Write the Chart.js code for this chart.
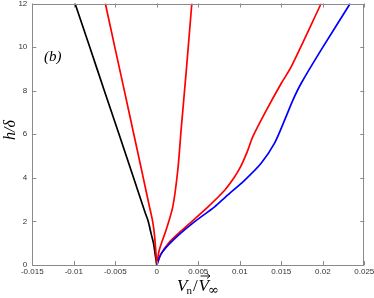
<!DOCTYPE html>
<html>
<head>
<meta charset="utf-8">
<script src="https://cdn.jsdelivr.net/npm/chart.js@4"></script>
<style>
  html, body { margin: 0; padding: 0; background: #fff; }
  #wrap { position: relative; width: 374px; height: 298px; }
</style>
</head>
<body>
<div id="wrap"><canvas id="chart"></canvas></div>
<script>
// axis ranges and tick labels
const xTicks = ["-0.015", "-0.01", "-0.005", "0", "0.005", "0.01", "0.015", "0.02", "0.025"];
const yTicks = ["0", "2", "4", "6", "8", "10", "12"];

// black curve (h/delta, Vn/Vinf)
const blackH = [0, 0.5, 1.0, 1.45, 1.8, 2.07, 2.4, 4, 6, 8, 10, 12];
const blackV = [0, -0.0002, -0.0004, -0.00069, -0.0009, -0.00108, -0.0014, -0.0028, -0.00455, -0.00632, -0.00808, -0.00985];

// red curve, left branch
const redLeftH = [0, 0.55, 1.45, 2.0, 2.37, 2.7, 4, 6, 8, 10, 12];
const redLeftV = [0, -0.0001, -0.0003, -0.0005, -0.0007, -0.0009, -0.00163, -0.00277, -0.00391, -0.00506, -0.0062];

// red curve, steep right branch
const redSteepH = [0, 0.69, 1.61, 2.68, 4.36, 6.2, 9, 12];
const redSteepV = [0, 0.0003, 0.00112, 0.00193, 0.00253, 0.00293, 0.00357, 0.00422];

// red curve, wide branch
const redWideH = [0, 0.5, 1.0, 1.55, 2.68, 3.44, 4.0, 4.51, 5.2, 5.89, 6.96, 8.34, 9.1, 12];
const redWideV = [0, 0.0005, 0.0014, 0.0029, 0.0062, 0.0082, 0.0093, 0.0101, 0.0109, 0.01157, 0.013, 0.015, 0.0162, 0.0198];

// blue curve
const blueH = [0, 0.5, 1.15, 1.91, 2.68, 3.13, 3.9, 4.67, 5.58, 6.65, 7.57, 8.34, 9.87, 12];
const blueV = [0, 0.0005, 0.002, 0.0043, 0.007, 0.0083, 0.0106, 0.01257, 0.01417, 0.0154, 0.0164, 0.0174, 0.0198, 0.0233];

const toPoints = (hs, vs) => hs.map((h, i) => ({ x: vs[i], y: h }));

const curve = (hs, vs, color) => ({
  data: toPoints(hs, vs),
  borderColor: color,
  borderWidth: 1.7,
  showLine: true,
  pointRadius: 0,
  tension: 0.3,
  fill: false,
});

// box, inward ticks, titles and panel label
const axisDecor = {
  id: "axisDecor",
  afterDraw(chart) {
    const { ctx, chartArea: a, scales } = chart;
    const x = scales.x, y = scales.y;
    ctx.save();
    ctx.strokeStyle = "#8a8a8a";
    ctx.lineWidth = 1;
    ctx.strokeRect(Math.round(a.left) + 0.5, Math.round(a.top) + 0.5,
      Math.round(a.width) - 1, Math.round(a.height) - 1);
    ctx.beginPath();
    xTicks.forEach((t) => {
      const px = Math.round(x.getPixelForValue(parseFloat(t))) + 0.5;
      ctx.moveTo(px, a.bottom); ctx.lineTo(px, a.bottom - 4);
      ctx.moveTo(px, a.top); ctx.lineTo(px, a.top + 4);
    });
    yTicks.forEach((t) => {
      const py = Math.round(y.getPixelForValue(parseFloat(t))) + 0.5;
      ctx.moveTo(a.left, py); ctx.lineTo(a.left + 4, py);
      ctx.moveTo(a.right, py); ctx.lineTo(a.right - 4, py);
    });
    ctx.stroke();

    ctx.fillStyle = "#000";
    ctx.textBaseline = "alphabetic";
    // panel label
    ctx.font = "italic 15px 'Liberation Serif'";
    ctx.textAlign = "left";
    ctx.fillText("(b)", 44, 61);

    // y title h/δ
    ctx.save();
    ctx.translate(15, 130);
    ctx.rotate(-Math.PI / 2);
    ctx.textAlign = "center";
    ctx.font = "italic 16px 'Liberation Serif'";
    ctx.fillText("h/δ", 0, 0);
    ctx.restore();

    // x title V_n / V(arrow)_inf
    const base = 291;
    let cx = 177;
    ctx.textAlign = "left";
    ctx.font = "italic 17px 'Liberation Serif'";
    ctx.fillText("V", cx, base);
    cx += ctx.measureText("V").width - 1;
    ctx.font = "11px 'Liberation Serif'";
    ctx.fillText("n", cx, base + 3);
    cx += ctx.measureText("n").width + 1;
    ctx.font = "17px 'Liberation Serif'";
    ctx.fillText("/", cx, base);
    cx += ctx.measureText("/").width + 1;
    ctx.font = "italic 17px 'Liberation Serif'";
    const vw = ctx.measureText("V").width;
    ctx.fillText("V", cx, base);
    // arrow over V
    ctx.beginPath();
    ctx.strokeStyle = "#000";
    ctx.lineWidth = 0.9;
    const ay = base - 15;
    ctx.moveTo(cx + 2, ay); ctx.lineTo(cx + vw + 1, ay);
    ctx.moveTo(cx + vw - 2, ay - 2.5); ctx.lineTo(cx + vw + 1, ay); ctx.lineTo(cx + vw - 2, ay + 2.5);
    ctx.stroke();
    cx += vw - 1;
    ctx.font = "13px 'DejaVu Serif'";
    ctx.fillText("∞", cx, base + 3);
    ctx.restore();
  },
};

new Chart(document.getElementById("chart").getContext("2d"), {
  type: "scatter",
  data: {
    // first dataset is drawn on top
    datasets: [
      curve(blueH, blueV, "#0000ff"),
      curve(redWideH, redWideV, "#ff0000"),
      curve(redSteepH, redSteepV, "#ff0000"),
      curve(redLeftH, redLeftV, "#ff0000"),
      curve(blackH, blackV, "#000000"),
    ],
  },
  options: {
    responsive: true,
    maintainAspectRatio: false,
    animation: false,
    layout: { padding: { left: 0, top: 3.5, right: 9.7, bottom: 0 } },
    plugins: { legend: { display: false }, tooltip: { enabled: false } },
    scales: {
      x: {
        type: "linear",
        min: -0.015,
        max: 0.025,
        afterBuildTicks: (s) => { s.ticks = xTicks.map((t) => ({ value: parseFloat(t) })); },
        afterFit: (s) => { s.height = 33; s.paddingLeft = 0; s.paddingRight = 0; },
        ticks: {
          callback: (v, i) => xTicks[i],
          color: "#333",
          font: { family: "Liberation Sans", size: 8 },
          padding: 2,
          maxRotation: 0,
          autoSkip: false,
        },
        grid: { display: false, drawTicks: false },
        border: { display: false },
      },
      y: {
        type: "linear",
        min: 0,
        max: 12,
        afterBuildTicks: (s) => { s.ticks = yTicks.map((t) => ({ value: parseFloat(t) })); },
        afterFit: (s) => { s.width = 32.3; s.paddingTop = 0; s.paddingBottom = 0; },
        ticks: {
          callback: (v, i) => yTicks[i],
          color: "#333",
          font: { family: "Liberation Sans", size: 8 },
          padding: 5,
          autoSkip: false,
        },
        grid: { display: false, drawTicks: false },
        border: { display: false },
      },
    },
  },
  plugins: [axisDecor],
});
</script>
</body>
</html>
